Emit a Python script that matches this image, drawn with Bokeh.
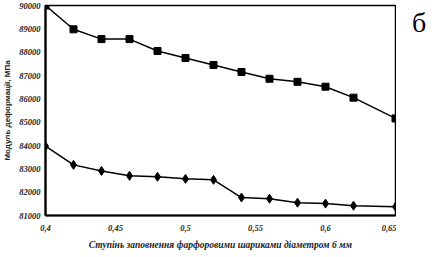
from bokeh.plotting import figure
from bokeh.models import Range1d, FixedTicker, Div
from bokeh.layouts import row
from bokeh.embed import file_html
from bokeh.resources import INLINE

# data
x_vals = [0.40, 0.42, 0.44, 0.46, 0.48, 0.50, 0.52, 0.54, 0.56, 0.58, 0.60, 0.62, 0.65]
upper = [90000, 88980, 88560, 88560, 88050, 87750, 87450, 87150, 86860, 86730, 86520, 86050, 85160]
lower = [83970, 83170, 82910, 82700, 82660, 82570, 82530, 81770, 81720, 81550, 81510, 81420, 81380]

x_ticks = [0.4, 0.45, 0.5, 0.55, 0.6, 0.65]
x_tick_labels = ["0,4", "0,45", "0,5", "0,55", "0,6", "0,65"]
y_ticks = [81000, 82000, 83000, 84000, 85000, 86000, 87000, 88000, 89000, 90000]
y_tick_labels = ["81000", "82000", "83000", "84000", "85000", "86000", "87000", "88000", "89000", "90000"]

x_title = "Ступінь заповнення фарфоровими шариками діаметром 6 мм"
y_title = "Модуль деформації, МПа"
panel_label = "б"

p = figure(width=396, height=252, output_backend="svg", toolbar_location=None,
           x_range=Range1d(0.4, 0.65), y_range=Range1d(81000, 90000))
p.min_border_left = 44
p.min_border_right = 1
p.min_border_top = 5
p.min_border_bottom = 35
p.background_fill_color = "white"
p.border_fill_color = "white"
p.grid.visible = False
p.outline_line_color = "black"
p.outline_line_width = 1.5

serif = "Liberation Serif"
for ax in (p.xaxis[0], p.yaxis[0]):
    ax.axis_line_width = 2.2
    ax.axis_line_color = "black"
    ax.major_tick_out = 0
    ax.major_tick_in = 0
    ax.minor_tick_out = 0
    ax.minor_tick_in = 0
    ax.major_label_text_font = serif
    ax.major_label_text_font_style = "bold italic"
    ax.major_label_text_font_size = "8.5px"
    ax.major_label_text_color = "#222222"

p.xaxis.ticker = FixedTicker(ticks=x_ticks)
p.xaxis.major_label_overrides = {t: l for t, l in zip(x_ticks, x_tick_labels)}
p.yaxis.ticker = FixedTicker(ticks=y_ticks)
p.yaxis.major_label_overrides = {t: l for t, l in zip(y_ticks, y_tick_labels)}
p.xaxis.major_label_standoff = 9
p.yaxis.major_label_standoff = 5

p.xaxis.axis_label = x_title
p.xaxis.axis_label_text_font = serif
p.xaxis.axis_label_text_font_style = "bold italic"
p.xaxis.axis_label_text_font_size = "9.5px"
p.xaxis.axis_label_standoff = 6
p.xaxis.axis_label_text_color = "#222222"

p.yaxis.axis_label = y_title
p.yaxis.axis_label_text_font = "Liberation Sans"
p.yaxis.axis_label_text_font_style = "bold"
p.yaxis.axis_label_text_font_size = "8px"
p.yaxis.axis_label_standoff = 4
p.yaxis.axis_label_text_color = "#222222"

p.line(x_vals, upper, line_color="black", line_width=1.5)
p.scatter(x_vals, upper, marker="square", size=7, color="black")
p.line(x_vals, lower, line_color="black", line_width=1.5)
p.scatter(x_vals, lower, marker="diamond", size=9, color="black")

div = Div(text=panel_label, width=35, height=40,
          styles={"font-family": "Liberation Serif", "font-size": "28px",
                  "line-height": "28px", "padding-left": "11px", "padding-top": "4px",
                  "color": "black"})

layout = row(p, div)
open("out.html", "w").write(file_html(layout, INLINE))
